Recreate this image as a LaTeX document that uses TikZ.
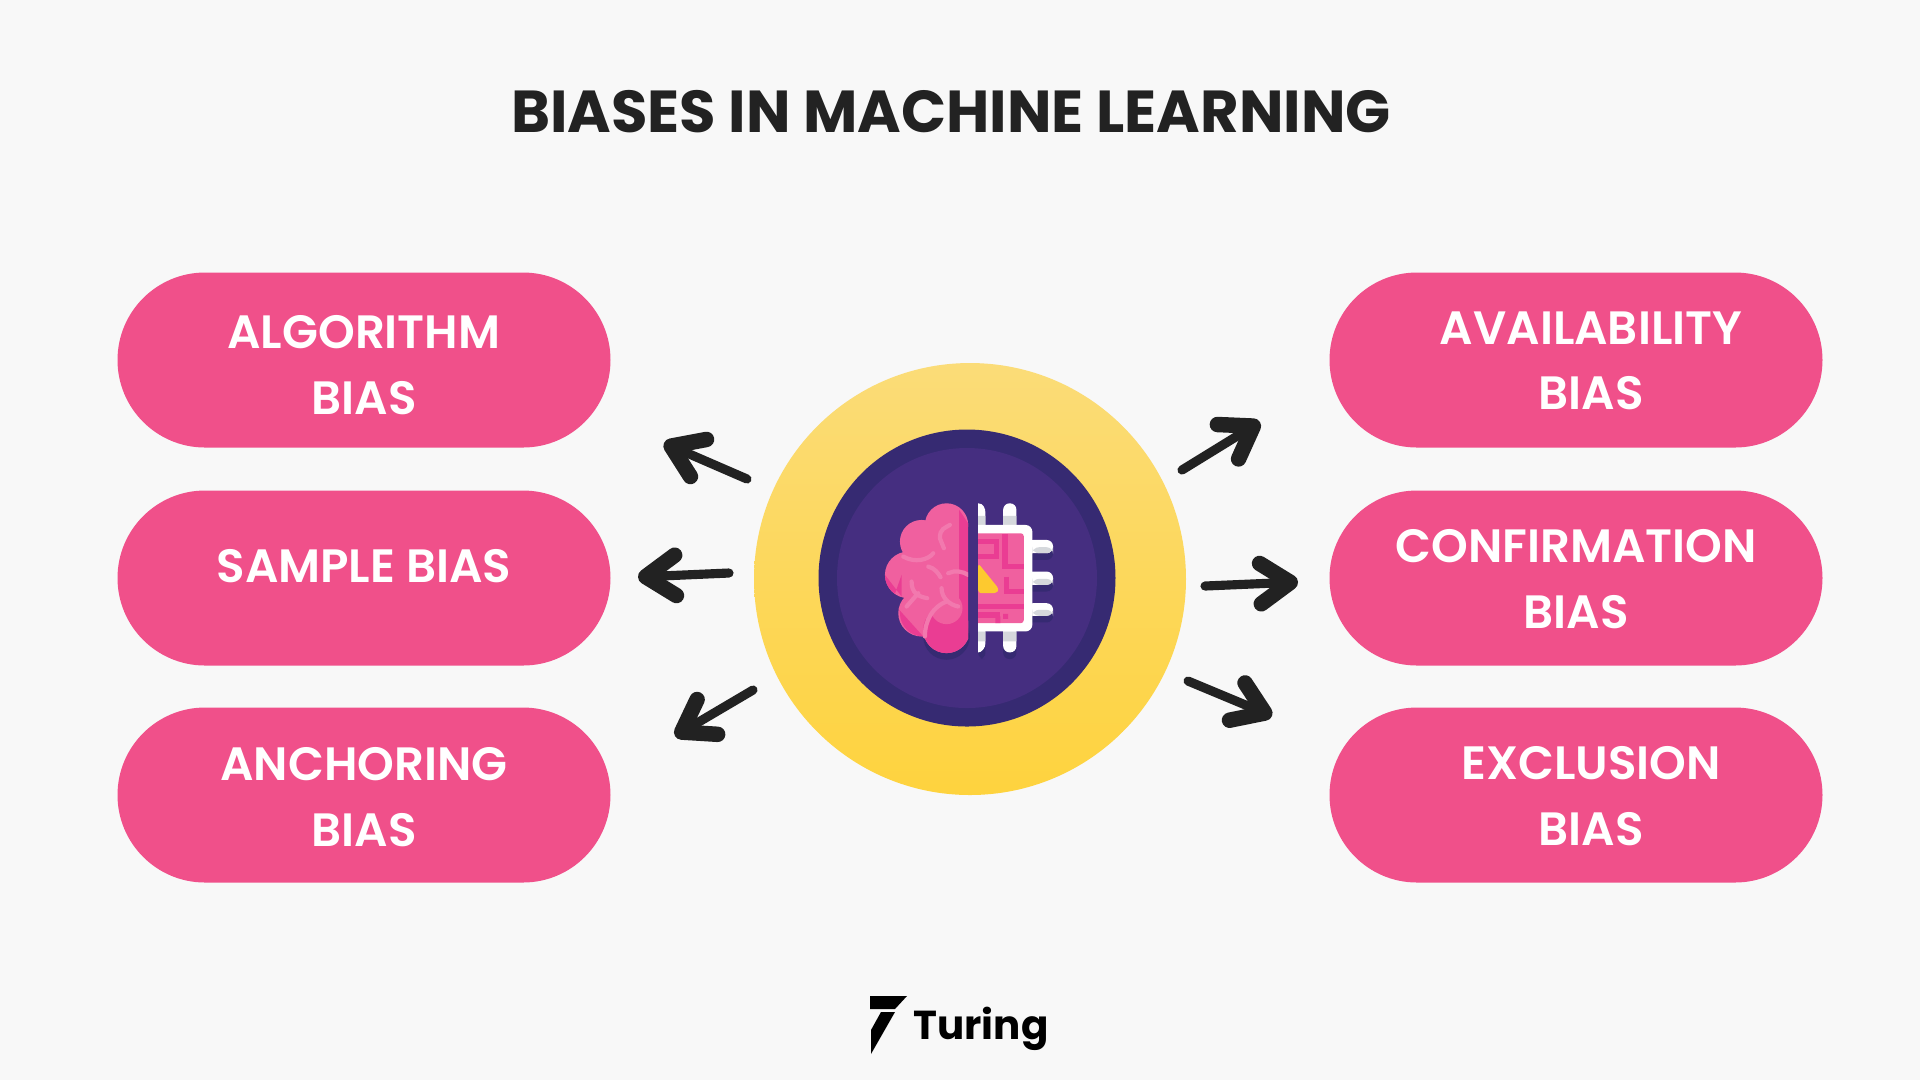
\documentclass[tikz,border=0pt]{standalone}
\usepackage{fontspec}
\setmainfont{Poppins}[BoldFont={Poppins SemiBold}]
\newfontfamily\heavyfont{Poppins}[BoldFont={Poppins Bold}]
\usetikzlibrary{arrows.meta,shapes.misc}
\definecolor{paper}{HTML}{F8F8F8}
\definecolor{ink}{HTML}{222222}
\definecolor{pillpink}{HTML}{F0508A}
\definecolor{brainpink}{HTML}{F0609F}
\definecolor{braindark}{HTML}{EA3D93}
\definecolor{brainlight}{HTML}{F279AE}
\definecolor{ringlight}{HTML}{FBDC78}
\definecolor{ringdeep}{HTML}{FED33E}
\definecolor{plumdark}{HTML}{362A72}
\definecolor{plum}{HTML}{452E80}
\definecolor{chipgrey}{HTML}{D5D8DC}
\definecolor{chipyellow}{HTML}{FDC92F}
\tikzset{
	pill/.style={rounded rectangle,fill=pillpink,minimum width=49.3mm,minimum height=17.5mm,inner sep=0pt},
	pilltext/.style={text=white,font=\fontsize{13.3}{18.6}\selectfont\bfseries,align=center},
	brush/.style={-{Straight Barb[length=8.5pt,width=11.5pt,round,line width=4.4pt]},line width=2.6pt,line cap=round,ink},
	fold/.style={draw=brainlight,line width=1.2pt,line cap=round},
	trace/.style={draw=braindark,line width=1.6pt},
	pin/.style={rounded corners=0.65mm},
}
\begin{document}
\begin{tikzpicture}[x=0.1mm,y=-0.1mm]
		\useasboundingbox (0,0) rectangle (1920,1080);
		\fill[paper] (0,0) rectangle (1920,1080);

		%title
		\node (title) at(951,112) [text=ink,font=\heavyfont\fontsize{16.85}{20}\selectfont\bfseries] {BIASES IN MACHINE LEARNING} ;

		%left and right pills
		\node (pill 1) at(364,360) [pill] {} ;
		\node (pill 2) at(364,578) [pill] {} ;
		\node (pill 3) at(364,795) [pill] {} ;
		\node (pill 4) at(1576,360) [pill] {} ;
		\node (pill 5) at(1576,578) [pill] {} ;
		\node (pill 6) at(1576,795) [pill] {} ;
		\node (text 1) at(364,365) [pilltext] {ALGORITHM\\BIAS} ;
		\node (text 2) at(364,566) [pilltext] {SAMPLE BIAS} ;
		\node (text 3) at(364,797) [pilltext] {ANCHORING\\BIAS} ;
		\node (text 4) at(1591,361) [pilltext] {AVAILABILITY\\BIAS} ;
		\node (text 5) at(1576,579) [pilltext] {CONFIRMATION\\BIAS} ;
		\node (text 6) at(1591,796) [pilltext] {EXCLUSION\\BIAS} ;

		%centre
		\node (ring) at(970,579) [circle,minimum size=43.2mm,inner sep=0pt,top color=ringlight,bottom color=ringdeep] {} ;
		\node (disc) at(967,578) [circle,minimum size=29.7mm,inner sep=0pt,fill=plumdark] {} ;
		\node (core) at(967,578) [circle,minimum size=26mm,inner sep=0pt,fill=plum] {} ;

		%brain and chip, numbers read from a 3x crop
		\begin{scope}[shift={(840,460)},x=0.0333mm,y=-0.0333mm]
			%shadows
			\fill[plumdark] (320,530) circle (70);
			\fill[plumdark,pin] (490,150) rectangle (530,598);
			\fill[plumdark,pin] (415,200) rectangle (437,598);
			\fill[plumdark,pin] (560,260) rectangle (640,300);
			\fill[plumdark,pin] (560,355) rectangle (640,395);
			\fill[plumdark,pin] (560,450) rectangle (640,488);
			%brain
			\begin{scope}
				\clip (100,100) rectangle (385,620);
				\fill[plum] (385,500) rectangle (400,620);
				\fill[brainpink] (320,195) circle (65) (245,245) circle (65) (205,345) circle (70) (245,460) circle (70) (320,510) circle (70);
				\fill[brainpink] (250,190) rectangle (385,520);
				\fill[braindark] (135,345) arc (180:125:70) -- (185,345) -- (185,410) -- cycle;
				\fill[braindark] (320,510) circle (70);
				\fill[braindark] (178,450) -- (250,530) arc (90:180:70) -- cycle;
				\fill[braindark] (358,150) -- (385,190) -- (385,520) -- (358,520) -- cycle;
				\fill[brainpink] (320,445) circle (48);
				\draw[fold] (300,235) .. controls (300,205) and (315,205) .. (330,195) (300,235) -- (312,265);
				\draw[fold] (190,290) .. controls (225,310) and (265,300) .. (280,280) (265,320) .. controls (285,325) and (295,340) .. (302,352);
				\draw[fold] (325,340) .. controls (345,330) and (370,335) .. (385,345);
				\draw[fold] (215,365) .. controls (215,400) and (235,410) .. (262,415) (235,400) -- (200,440);
				\draw[fold] (305,385) .. controls (305,415) and (330,435) .. (355,440) (320,425) .. controls (280,440) and (255,480) .. (255,530);
			\end{scope}
			%chip
			\fill[white,pin] (490,130) rectangle (530,578);
			\fill[chipgrey] (490,168) rectangle (530,195) (490,515) rectangle (530,545);
			\fill[white,pin] (560,240) rectangle (640,280);
			\fill[white,pin] (560,335) rectangle (640,375);
			\fill[white,pin] (560,430) rectangle (640,468);
			\fill[chipgrey,pin] (578,262) rectangle (640,280);
			\fill[chipgrey,pin] (578,357) rectangle (640,375);
			\fill[chipgrey,pin] (578,450) rectangle (640,468);
			\fill[white] (415,130) .. controls (430,130) and (437,145) .. (437,160) -- (437,550) .. controls (437,565) and (425,578) .. (415,578) -- cycle;
			\fill[chipgrey] (415,168) rectangle (437,195) (415,515) rectangle (437,545);
			\fill[white] (415,195) [rounded corners=0.7mm] -- (578,195) -- (578,515) [sharp corners] -- (415,515) -- cycle;
			\fill[brainpink] (415,220) [rounded corners=0.3mm] -- (552,220) -- (552,490) [sharp corners] -- (415,490) -- cycle;
			\draw[trace] (415,245) -- (470,245) -- (470,290) -- (415,290) (495,222) -- (495,320) -- (552,320) (500,350) -- (500,395) -- (552,395) (415,440) -- (552,440) (415,465) -- (480,465);
			\fill[braindark] (467,470) rectangle (482,490) (490,462) rectangle (505,477);
			\fill[chipyellow,rounded corners=0.3mm] (415,310) -- (478,388) -- (470,400) -- (415,400) -- cycle;
		\end{scope}

		%arrow ends
		\coordinate (tail 1) at(747,479) ;
		\coordinate (tip 1) at(664,443) ;
		\coordinate (tail 2) at(729,573) ;
		\coordinate (tip 2) at(638,577) ;
		\coordinate (tail 3) at(753,690) ;
		\coordinate (tip 3) at(675,736) ;
		\coordinate (tail 4) at(1182,470) ;
		\coordinate (tip 4) at(1260,422) ;
		\coordinate (tail 5) at(1205,586) ;
		\coordinate (tip 5) at(1298,582) ;
		\coordinate (tail 6) at(1188,681) ;
		\coordinate (tip 6) at(1272,716) ;

		\path
		(tail 1) edge[brush] (tip 1)
		(tail 2) edge[brush] (tip 2)
		(tail 3) edge[brush] (tip 3)
		(tail 4) edge[brush] (tip 4)
		(tail 5) edge[brush] (tip 5)
		(tail 6) edge[brush] (tip 6)
		;

		%logo
		\fill[black] (870,996) -- (907,996) -- (895,1009) -- (870,1009) -- cycle;
		\fill[black] (895,1012) -- (871,1054) -- (871,1030) -- (881,1012) -- cycle;
		\node (logo) at(981,1029) [text=black,font=\heavyfont\fontsize{11.5}{15}\selectfont\bfseries] {Turing} ;
\end{tikzpicture}
\end{document}
